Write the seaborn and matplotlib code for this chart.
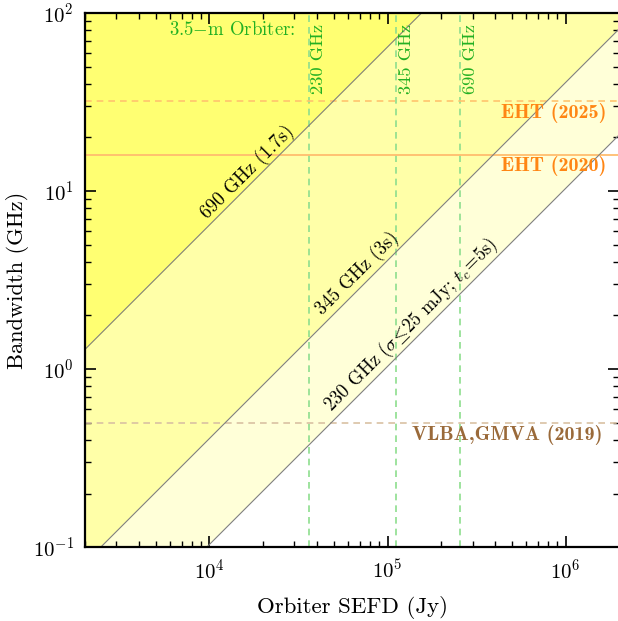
import numpy as np
import pandas as pd
import matplotlib
matplotlib.use('Agg')
import matplotlib.pyplot as plt
import seaborn as sns

sns.set_theme(style='ticks')
plt.rcParams['font.family'] = ['cmr10', 'DejaVu Serif']
plt.rcParams['mathtext.fontset'] = 'cm'
plt.rcParams['axes.formatter.use_mathtext'] = True
plt.rcParams['axes.unicode_minus'] = False
plt.rcParams['text.color'] = 'black'
plt.rcParams['axes.labelcolor'] = 'black'
plt.rcParams['xtick.color'] = 'black'
plt.rcParams['ytick.color'] = 'black'

# sensitivity limits: bandwidth needed vs orbiter SEFD (read at the two ends of the x range)
sefd_ends = [2.0e3, 2.0e6]
bw_690 = [1.29, 1290.0]
bw_345 = [0.0815, 81.5]
bw_230 = [0.0207, 20.7]

# 3.5-m orbiter SEFDs
orbiter_freq = ['230 GHz', '345 GHz', '690 GHz']
orbiter_sefd = [3.6e4, 1.12e5, 2.56e5]

# existing array bandwidths
array_name = ['EHT (2025)', 'EHT (2020)', 'VLBA,GMVA (2019)']
array_bw = [32.0, 16.0, 0.5]

fig = plt.figure(figsize=(6.18, 6.21), dpi=100)
ax = fig.add_axes([0.1375, 0.119, 0.8645, 0.86])
ax.set_xscale('log')
ax.set_yscale('log')

# shaded regions (layered, lightest first)
ax.fill_between(sefd_ends, bw_230, 1e3, color='#ffffd8', lw=0, zorder=0)
ax.fill_between(sefd_ends, bw_345, 1e3, color='#ffffa8', lw=0, zorder=0)
ax.fill_between(sefd_ends, bw_690, 1e3, color='#ffff72', lw=0, zorder=0)

for bw in [bw_690, bw_345, bw_230]:
    sns.lineplot(x=sefd_ends, y=bw, color='gray', lw=0.8, ax=ax, zorder=2)

# orbiter SEFD lines
for f, s in zip(orbiter_freq, orbiter_sefd):
    ax.axvline(s, color='#8ede8e', ls=(0, (4, 3)), lw=1.2, zorder=1)
    ax.text(s * 1.035, 87, f, rotation=90, ha='left', va='top',
            color='#22b022', fontsize=13.3)
ax.text(3.05e4, 80, r'3.5$-$m Orbiter:', ha='right', va='center',
        color='#22b022', fontsize=13.5)

# array bandwidths
ax.axhline(array_bw[0], color='#ffc46e', ls=(0, (4, 3)), lw=1.2, zorder=1)
ax.axhline(array_bw[1], color='#ffbd6e', ls='-', lw=1.3, zorder=1)
ax.axhline(array_bw[2], color='#d9c1a3', ls=(0, (4, 3)), lw=1.2, zorder=1)
ax.text(1.7e6, 27.6, array_name[0], ha='right', va='center',
        color='#ff8614', fontsize=14.5, family='cmb10')
ax.text(1.7e6, 13.9, array_name[1], ha='right', va='center',
        color='#ff8614', fontsize=14.5, family='cmb10')
ax.text(1.62e6, 0.425, array_name[2], ha='right', va='center',
        color='#9a6a3a', fontsize=14.5, family='cmb10')

# diagonal labels
labels = [
    ('690 GHz (1.7s)', (1.02e4, 6.6), 5),
    ('345 GHz (3s)', (4.6e4, 1.87), 7),
    (r'230 GHz ($\sigma\!\leq\!25$ mJy; $t_c\!=\!5$s)', (5.15e4, 0.533), 8),
]
for txt, xy, d in labels:
    off = d * 0.72 / np.sqrt(2)
    ax.annotate(txt, xy=xy, xytext=(-off, off), textcoords='offset points',
                rotation=45, rotation_mode='anchor', ha='left', va='baseline',
                fontsize=13.5, color='black')

ax.set_xlim(2.0e3, 2.0e6)
ax.set_ylim(0.1, 100)
ax.set_xlabel('Orbiter SEFD (Jy)', fontsize=16.5, labelpad=10)
ax.set_ylabel('Bandwidth (GHz)', fontsize=16.2, labelpad=3)
ax.tick_params(which='both', direction='in', top=True, right=True,
               labelsize=15)
ax.tick_params(which='major', length=8, width=1.2, pad=8)
ax.tick_params(which='minor', length=4, width=1.0)
for sp in ax.spines.values():
    sp.set_linewidth(1.6)
    sp.set_color('black')

fig.savefig('out.png', dpi=100)
